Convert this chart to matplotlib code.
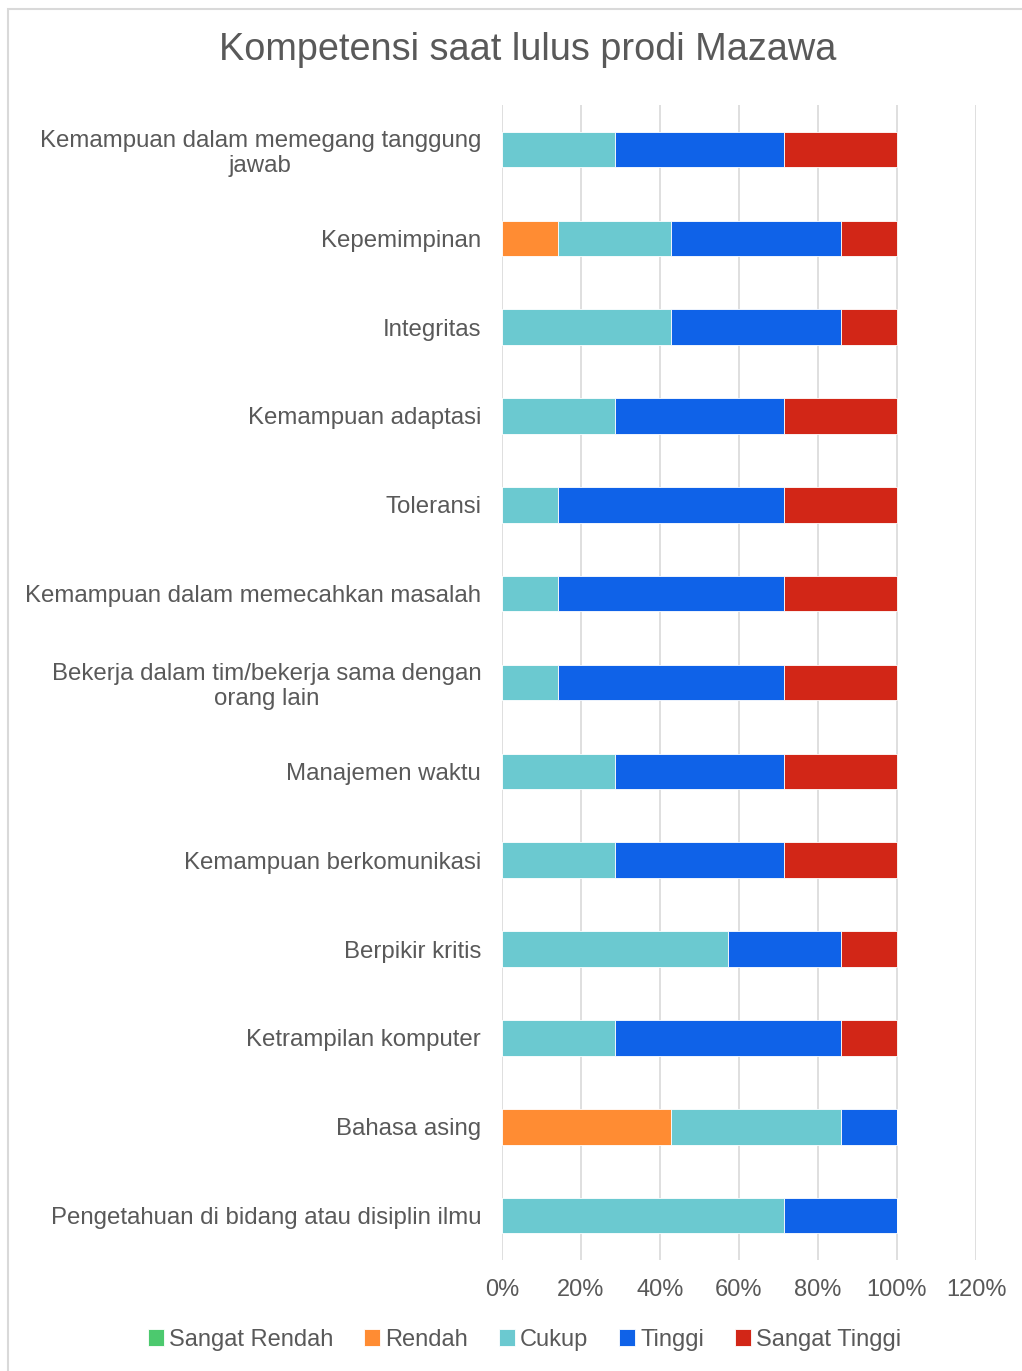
import numpy as np
import matplotlib.pyplot as plt
from matplotlib.patches import Rectangle

plt.rcParams['font.family'] = ['Liberation Sans', 'DejaVu Sans']

# categories, top to bottom as in the chart
categories = [
    "Kemampuan dalam memegang tanggung\njawab",
    "Kepemimpinan",
    "Integritas",
    "Kemampuan adaptasi",
    "Toleransi",
    "Kemampuan dalam memecahkan masalah",
    "Bekerja dalam tim/bekerja sama dengan\norang lain",
    "Manajemen waktu",
    "Kemampuan berkomunikasi",
    "Berpikir kritis",
    "Ketrampilan komputer",
    "Bahasa asing",
    "Pengetahuan di bidang atau disiplin ilmu",
]

series = ["Sangat Rendah", "Rendah", "Cukup", "Tinggi", "Sangat Tinggi"]
colors = ["#4cc96e", "#ff8c33", "#6bc9d0", "#0f62e8", "#d22617"]

# shares (fraction of respondents), same order as categories
sangat_rendah = [0, 0, 0, 0, 0, 0, 0, 0, 0, 0, 0, 0, 0]
rendah        = [0, 1/7, 0, 0, 0, 0, 0, 0, 0, 0, 0, 3/7, 0]
cukup         = [2/7, 2/7, 3/7, 2/7, 1/7, 1/7, 1/7, 2/7, 2/7, 4/7, 2/7, 3/7, 5/7]
tinggi        = [3/7, 3/7, 3/7, 3/7, 4/7, 4/7, 4/7, 3/7, 3/7, 2/7, 4/7, 1/7, 2/7]
sangat_tinggi = [2/7, 1/7, 1/7, 2/7, 2/7, 2/7, 2/7, 2/7, 2/7, 1/7, 1/7, 0, 0]

values = [sangat_rendah, rendah, cukup, tinggi, sangat_tinggi]

text_color = "#595959"

fig = plt.figure(figsize=(10.22, 13.71), dpi=100)
ax = fig.add_axes([502/1022, 1 - 1260/1371, 474/1022, (1260 - 105)/1371])

y = np.arange(len(categories))
left = np.zeros(len(categories))
for name, vals, col in zip(series, values, colors):
    vals = np.array(vals)
    ax.barh(y, vals, left=left, height=0.4, color=col, label=name,
            edgecolor="white", linewidth=0.6, zorder=3)
    left += vals

ax.set_xlim(0, 1.2)
ax.set_ylim(len(categories) - 0.5, -0.5)
ax.set_xticks(np.arange(0, 1.21, 0.2))
ax.set_xticklabels([f"{int(round(t*100))}%" for t in np.arange(0, 1.21, 0.2)])
ax.set_yticks(y)
ax.set_yticklabels(categories, multialignment="center")

ax.tick_params(axis="both", length=0, colors=text_color, labelsize=17)
ax.tick_params(axis="y", labelsize=17.3, pad=15)
ax.tick_params(axis="x", pad=14)
ax.grid(axis="x", color="#d9d9d9", linewidth=1.2, zorder=0)
for s in ax.spines.values():
    s.set_visible(False)

fig.text(0.5166, 1 - 50/1371, "Kompetensi saat lulus prodi Mazawa",
         ha="center", va="center", fontsize=27.3, color=text_color)

fig.legend(loc="center", bbox_to_anchor=(0.513, 1 - 1340/1371), ncol=5,
           frameon=False, fontsize=17, labelcolor=text_color,
           handlelength=0.7, handleheight=0.7, handletextpad=0.2,
           columnspacing=1.3)

# chart border (top and left edges visible)
fig.patches.append(Rectangle((8/1022, -0.05), 1.1, 1 - 9/1371 + 0.05,
                             transform=fig.transFigure, fill=False,
                             edgecolor="#d9d9d9", linewidth=1.5))

fig.savefig("out.png", dpi=100)
